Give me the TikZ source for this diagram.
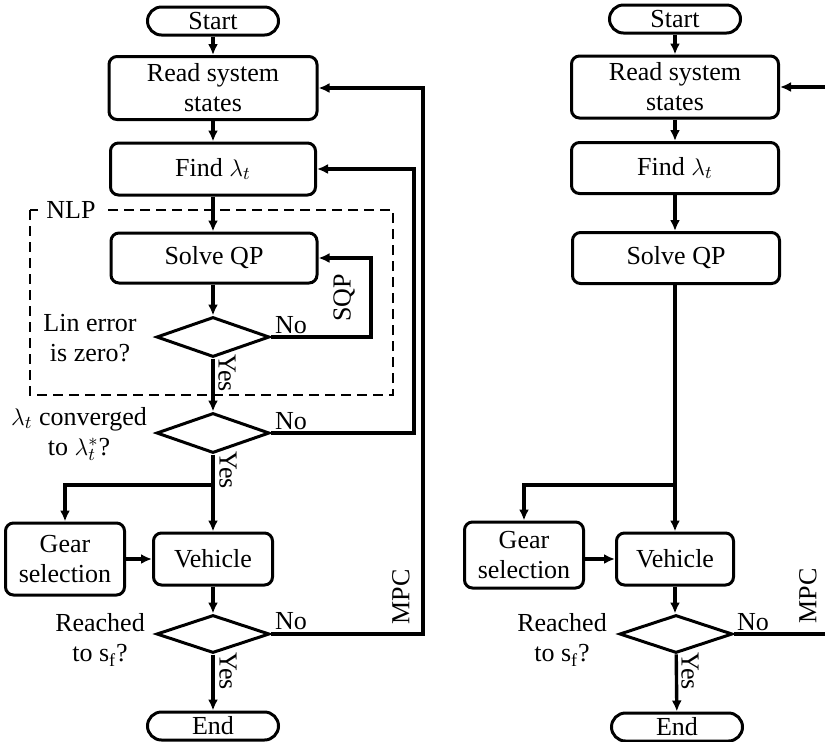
\documentclass[tikz,border=0pt]{standalone}
\usepackage{fontspec}
\setmainfont{Liberation Serif}
\usetikzlibrary{shapes.geometric,arrows.meta}

\begin{document}
\begin{tikzpicture}[
  x=0.5pt, y=-0.5pt,
  font=\fontsize{13pt}{15pt}\selectfont,
  box/.style={rectangle, draw, line width=1.5pt, rounded corners=4pt, align=center, inner sep=0pt},
  term/.style={box, rounded corners=7pt, minimum width=65.5pt, minimum height=14pt},
  decision/.style={diamond, draw, line width=1.5pt, inner sep=0pt, minimum width=56.5pt, minimum height=20pt},
  arrow/.style={-{Latex[length=5.5pt,width=5pt]}, line width=1.7pt},
  line/.style={line width=1.7pt},
  lbl/.style={inner sep=0pt, align=center}
]
  \useasboundingbox (0,0) rectangle (825,741);

  % left chart: NLP solved by SQP inside the MPC loop
  \node (start) [term] at (213,21) {Start};
  \node (read) [box, minimum width=104pt, minimum height=31.5pt] at (213,88) {Read system\\states};
  \node (find) [box, minimum width=102.5pt, minimum height=26pt] at (213,169) {Find $\lambda_t$};
  \node (solve) [box, minimum width=103pt, minimum height=25pt] at (214,258) {Solve QP};
  \node (lin) [decision] at (213,337) {};
  \node (conv) [decision] at (213,433) {};
  \node (gear) [box, minimum width=59.5pt, minimum height=36pt] at (65,559) {Gear\\selection};
  \node (veh) [box, minimum width=59.5pt, minimum height=26pt] at (213,559) {Vehicle};
  \node (reach) [decision, minimum height=19pt] at (213,634) {};
  \node (end) [term] at (213,726) {End};

  \node (linq) [lbl] at (90,338) {Lin error\\is zero?};
  \node (convq) [lbl] at (79,434) {$\lambda_t$ converged\\to $\lambda_t^*$?};
  \node (reachq) [lbl] at (100,640) {Reached\\to $\mathrm{s}_\mathrm{f}$?};

  \draw [line width=1.2pt, dash pattern=on 5pt off 3pt] (30,210) rectangle (393,395);
  \node (nlp) [lbl, fill=white, inner xsep=3pt] at (71,210) {NLP};

  \draw [arrow] (start) -- (read);
  \draw [arrow] (read) -- (find);
  \draw [arrow] (find) -- (find |- solve.north);
  \draw [arrow] (lin.north |- solve.south) -- (lin);
  \draw [arrow] (lin) -- (conv);
  \coordinate (split) at (213,485);
  \draw [arrow] (conv) -- (veh);
  \draw [arrow] (split) -| (gear.north);
  \draw [arrow] (gear) -- (veh);
  \draw [arrow] (veh) -- (reach);
  \draw [arrow] (reach) -- (end);

  \draw [arrow] (lin.east) -- ++(100,0) |- (solve.east);
  \draw [arrow] (conv.east) -- ++(143,0) |- (find.east);
  \draw [arrow] (reach.east) -- ++(152,0) |- (read.east);

  \node [lbl] at (291,325) {No};
  \node [lbl] at (291,421) {No};
  \node [lbl] at (291,621) {No};
  \node [lbl, rotate=-90] at (227,373) {Yes};
  \node [lbl, rotate=-90] at (228,470) {Yes};
  \node [lbl, rotate=-90] at (228,671) {Yes};
  \node [lbl, rotate=90] at (344,298) {SQP};
  \node [lbl, rotate=90] at (401,597) {MPC};

  % right chart: single QP per step
  \node (rstart) [term] at (675,19) {Start};
  \node (rread) [box, minimum width=103.5pt, minimum height=31pt] at (675,87) {Read system\\states};
  \node (rfind) [box, minimum width=103.5pt, minimum height=25.5pt] at (675,168) {Find $\lambda_t$};
  \node (rsolve) [box, minimum width=103.5pt, minimum height=25.5pt] at (676,258) {Solve QP};
  \node (rgear) [box, minimum width=59.5pt, minimum height=33pt] at (524,555) {Gear\\selection};
  \node (rveh) [box, minimum width=58.5pt, minimum height=26pt] at (675,559) {Vehicle};
  \node (rreach) [decision, minimum height=19pt] at (676,634) {};
  \node (rend) [term] at (677,727) {End};

  \node (rreachq) [lbl] at (562,640) {Reached\\to $\mathrm{s}_\mathrm{f}$?};

  \coordinate (rsplit) at (675,485);
  \coordinate (rin) at (825,87);
  \coordinate (rout) at (825,634);

  \draw [arrow] (rstart) -- (rread);
  \draw [arrow] (rread) -- (rfind);
  \draw [arrow] (rfind) -- (rfind |- rsolve.north);
  \draw [arrow] (rveh.north |- rsolve.south) -- (rveh);
  \draw [arrow] (rsplit) -| (rgear.north);
  \draw [arrow] (rgear.east |- rveh.west) -- (rveh.west);
  \draw [arrow] (rveh.south) -- (rveh.south |- rreach.north);
  \draw [arrow] (rreach) -- (rend);
  \draw [line] (rreach.east) -- (rout);
  \draw [arrow] (rin) -- (rread.east);

  \node [lbl] at (753,622) {No};
  \node [lbl, rotate=-90] at (690,671) {Yes};
  \node [lbl, rotate=90] at (808,596) {MPC};
\end{tikzpicture}
\end{document}
